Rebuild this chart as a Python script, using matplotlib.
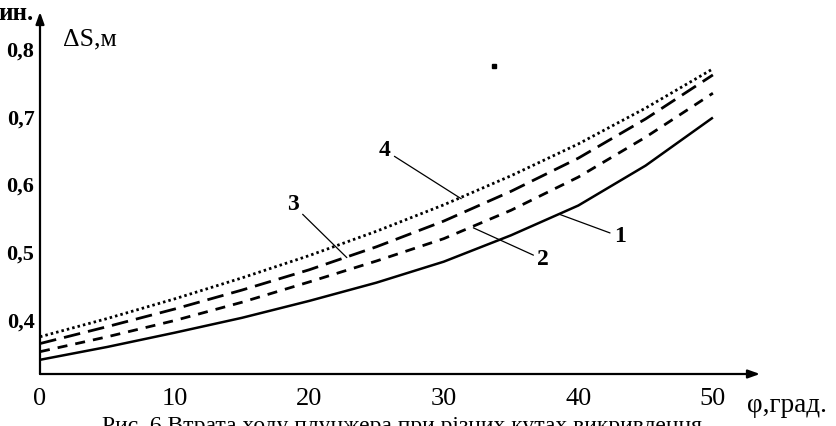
import matplotlib as mpl
mpl.use('Agg')
import matplotlib.pyplot as plt

plt.rcParams['font.family'] = ['Liberation Serif', 'DejaVu Serif']

# кут викривлення, град
phi = [0, 5, 10, 15, 20, 25, 30, 35, 40, 45, 50]
# втрата ходу плунжера dS, м
ds_1 = [0.341, 0.360, 0.381, 0.403, 0.428, 0.455, 0.486, 0.525, 0.569, 0.628, 0.699]
ds_2 = [0.353, 0.375, 0.399, 0.426, 0.456, 0.487, 0.520, 0.562, 0.611, 0.670, 0.735]
ds_3 = [0.365, 0.390, 0.416, 0.444, 0.474, 0.508, 0.546, 0.590, 0.639, 0.697, 0.762]
ds_4 = [0.375, 0.402, 0.431, 0.462, 0.495, 0.531, 0.570, 0.613, 0.660, 0.713, 0.771]

xticks = [0, 10, 20, 30, 40, 50]
yticks = [0.4, 0.5, 0.6, 0.7, 0.8]
ytick_labels = ['0,4', '0,5', '0,6', '0,7', '0,8']

# номери кривих: (текст, точка на кривій, положення підпису)
curve_labels = [
    ('1', (38.6, 0.556), (43.1, 0.523)),
    ('2', (32.2, 0.536), (37.4, 0.489)),
    ('3', (22.8, 0.492), (18.8, 0.570)),
    ('4', (31.3, 0.579), (25.6, 0.651)),
]
stray_dot = (33.7, 0.775)

fig = plt.figure(figsize=(8.37, 4.26), dpi=100)
ax = fig.add_axes([40 / 837, 1 - 374 / 426, 720 / 837, 362 / 426])
ax.set_xlim(0, 53.5)
ax.set_ylim(0.320, 0.855)

ax.plot(phi, ds_1, color='black', lw=1.8, solid_capstyle='butt')
ax.plot(phi, ds_2, color='black', lw=2.0, dashes=(3.6, 2.9))
ax.plot(phi, ds_3, color='black', lw=2.0, dashes=(6.0, 2.9))
ax.plot(phi, ds_4, color='black', lw=2.0, dashes=(0.9, 1.1))
ax.plot(*stray_dot, 's', ms=3, color='black')

for txt, xy, xyt in curve_labels:
    ax.annotate(txt, xy=xy, xytext=xyt, ha='center', va='center',
                fontsize=17, fontweight='bold',
                arrowprops=dict(arrowstyle='-', lw=0.9, color='black',
                                shrinkA=1, shrinkB=0))

for s in ax.spines.values():
    s.set_visible(False)
arrow = dict(arrowstyle='-|>,head_length=0.7,head_width=0.25', lw=1.6,
             color='black', shrinkA=0, shrinkB=0)
ax.annotate('', xy=(1, 0), xytext=(0, 0), xycoords='axes fraction', arrowprops=arrow)
ax.annotate('', xy=(0, 1), xytext=(0, 0), xycoords='axes fraction', arrowprops=arrow)

ax.set_xticks(xticks)
ax.set_xticklabels([str(t) for t in xticks], fontsize=19)
ax.set_yticks(yticks)
ax.set_yticklabels(ytick_labels, fontsize=16, fontweight='bold')
ax.tick_params(axis='x', length=0, pad=10)
ax.tick_params(axis='y', length=0, pad=4)

fig.text(63 / 837, 1 - 39 / 426, 'ΔS,м', fontsize=18.5, ha='left', va='center')
fig.text(-2 / 837, 1 - 14 / 426, 'ин.', fontsize=18, fontweight='bold',
         ha='left', va='center')
fig.text(747 / 837, 1 - 406 / 426, 'φ,град.', fontsize=19.5, ha='left', va='center')
fig.text(102 / 837, 1 - 416 / 426,
         'Рис. 6 Втрата ходу плунжера при різних кутах викривлення',
         fontsize=17, ha='left', va='top')

fig.savefig('out.png', dpi=100)
